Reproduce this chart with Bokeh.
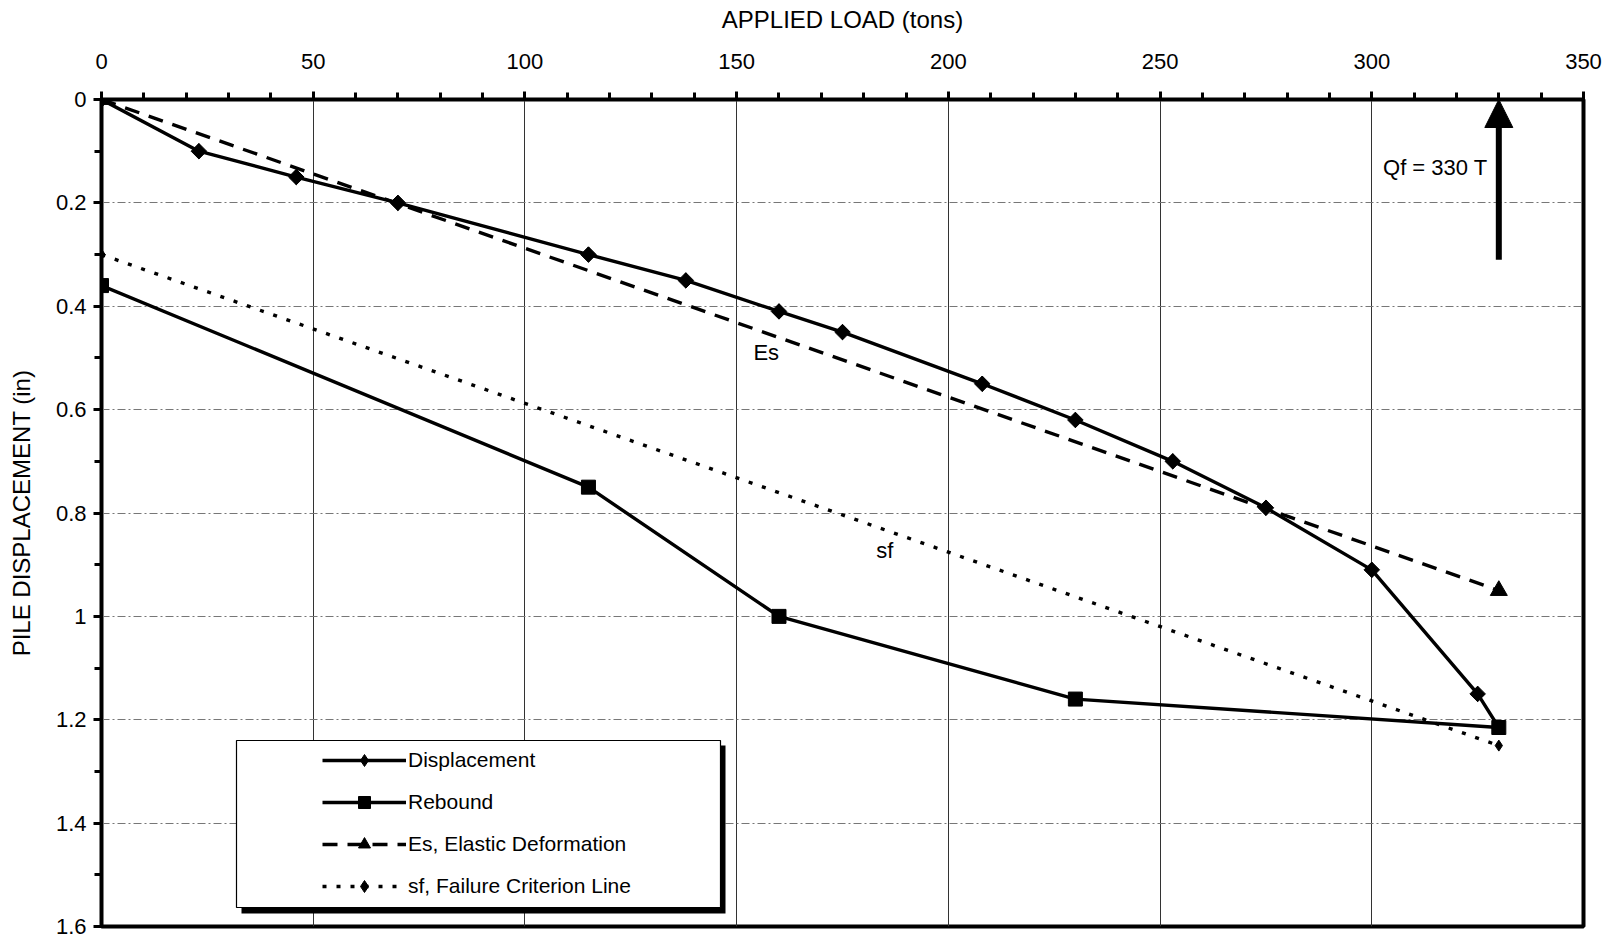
import math
from bokeh.plotting import figure
from bokeh.models import (Range1d, FixedTicker, CustomJSTickFormatter, Legend, LegendItem,
                          Arrow, NormalHead)
from bokeh.core.properties import value
from bokeh.embed import file_html
from bokeh.resources import INLINE

# ---------------- data ----------------
disp_load = [0, 23, 46, 70, 115, 138, 160, 175, 208, 230, 253, 275, 300, 325, 330]
disp_in = [0.0, 0.10, 0.15, 0.20, 0.30, 0.35, 0.41, 0.45, 0.55, 0.62, 0.70, 0.79, 0.91, 1.15, 1.215]

rebound_load = [0, 115, 160, 230, 330]
rebound_in = [0.36, 0.75, 1.0, 1.16, 1.215]

es_load = [0, 330]
es_in = [0.0, 0.95]

sf_load = [0, 330]
sf_in = [0.30, 1.25]

qf_load = 330
qf_arrow_in = [0.31, 0.0]

x_ticks = [0, 50, 100, 150, 200, 250, 300, 350]
x_minor = list(range(0, 351, 10))
y_ticks = [0, 0.2, 0.4, 0.6, 0.8, 1.0, 1.2, 1.4, 1.6]
y_minor = [0.1, 0.3, 0.5, 0.7, 0.9, 1.1, 1.3, 1.5]

annot_text = ["Es", "sf", "Qf = 330 T"]
annot_x = [157, 185, 315]
annot_y = [0.49, 0.873, 0.131]

legend_labels = ["Displacement", "Rebound", "Es, Elastic Deformation", "sf, Failure Criterion Line"]

FONT = "Liberation Sans"

# ---------------- figure ----------------
FW, FH = 1482, 827
p = figure(frame_width=FW, frame_height=FH,
           x_range=Range1d(0, 350), y_range=Range1d(1.6, 0),
           x_axis_location="above",
           output_backend="svg", toolbar_location=None,
           min_border_left=101, min_border_top=99, min_border_right=28, min_border_bottom=14,
           background_fill_color="white", border_fill_color="white")
p.extra_x_ranges = {"px": Range1d(0, FW)}
p.extra_y_ranges = {"py": Range1d(FH, 0)}

p.outline_line_color = "black"
p.outline_line_width = 4

# axes
xa = p.xaxis[0]
xa.ticker = FixedTicker(ticks=x_ticks, minor_ticks=x_minor)
xa.axis_label = "APPLIED LOAD (tons)"
ya = p.yaxis[0]
ya.ticker = FixedTicker(ticks=y_ticks, minor_ticks=y_minor)
ya.formatter = CustomJSTickFormatter(code="return String(Math.round(tick*10)/10);")
ya.axis_label = "PILE DISPLACEMENT (in)"

for ax in (xa, ya):
    ax.axis_line_color = "black"
    ax.axis_line_width = 3
    ax.major_tick_line_color = "black"
    ax.major_tick_line_width = 3
    ax.minor_tick_line_color = "black"
    ax.minor_tick_line_width = 3
    ax.major_tick_in = 0
    ax.minor_tick_in = 0
    ax.major_tick_out = 8
    ax.minor_tick_out = 7
    ax.major_label_text_font = FONT
    ax.major_label_text_font_size = "22px"
    ax.major_label_text_color = "black"
    ax.axis_label_text_font = FONT
    ax.axis_label_text_font_size = "24px"
    ax.axis_label_text_font_style = "normal"
    ax.axis_label_text_color = "black"

xa.major_label_standoff = 23
xa.axis_label_standoff = 18
ya.major_label_standoff = 7
ya.axis_label_standoff = 18

# grids
p.xgrid.grid_line_color = "#333333"
p.xgrid.grid_line_width = 1
p.ygrid.grid_line_color = "#777777"
p.ygrid.grid_line_width = 1
p.ygrid.grid_line_dash = "8 3 2 3"

# ---------------- series ----------------
LW = 3.4
DIAMOND = math.pi / 4
r_disp_l = p.line(disp_load, disp_in, line_color="black", line_width=LW)
# narrow diamond (used by the legend swatch), covered by the rotated squares below
r_disp_d = p.scatter(disp_load[:-1], disp_in[:-1], marker="diamond", size=15,
                     fill_color="black", line_color="black")
r_disp_m = p.scatter(disp_load[:-1], disp_in[:-1], marker="square", angle=DIAMOND, size=11,
                     fill_color="black", line_color="black")

r_reb_l = p.line(rebound_load, rebound_in, line_color="black", line_width=LW)
r_reb_m = p.scatter(rebound_load, rebound_in, marker="square", size=14,
                    fill_color="black", line_color="black")

r_es_l = p.line(es_load, es_in, line_color="black", line_width=LW, line_dash="15 10")
r_es_m = p.scatter(es_load, es_in, marker="triangle", size=17,
                   fill_color="black", line_color="black")

r_sf_l = p.line(sf_load, sf_in, line_color="black", line_width=LW, line_dash="4 10")
r_sf_m = p.scatter(sf_load, sf_in, marker="diamond", size=11,
                   fill_color="black", line_color="black")

# annotations text
p.text(x=annot_x, y=annot_y, text=annot_text, text_align="center", text_baseline="middle",
       text_font=value(FONT), text_font_size="22px", text_color="black")

# Qf arrow
p.add_layout(Arrow(end=NormalHead(size=28, fill_color="black", line_color="black"),
                   x_start=qf_load, y_start=qf_arrow_in[0], x_end=qf_load, y_end=qf_arrow_in[1],
                   line_width=6, line_color="black"))

# ---------------- legend box (frame pixel coords) ----------------
p.quad(left=[140], right=[624], top=[646], bottom=[814], x_range_name="px", y_range_name="py",
       fill_color="black", line_color=None)
p.quad(left=[135], right=[619], top=[641], bottom=[808], x_range_name="px", y_range_name="py",
       fill_color="white", line_color="black", line_width=1.2)

legend = Legend(items=[
    LegendItem(label=legend_labels[0], renderers=[r_disp_l, r_disp_d]),
    LegendItem(label=legend_labels[1], renderers=[r_reb_l, r_reb_m]),
    LegendItem(label=legend_labels[2], renderers=[r_es_l, r_es_m]),
    LegendItem(label=legend_labels[3], renderers=[r_sf_l, r_sf_m]),
], location=(221, 25), padding=0, margin=0, spacing=12,
    glyph_width=84, glyph_height=30, label_height=30, label_standoff=2,
    label_text_font=FONT, label_text_font_size="21px", label_text_color="black",
    background_fill_alpha=0, border_line_alpha=0)
p.add_layout(legend)

open("out.html", "w").write(file_html(p, INLINE))
